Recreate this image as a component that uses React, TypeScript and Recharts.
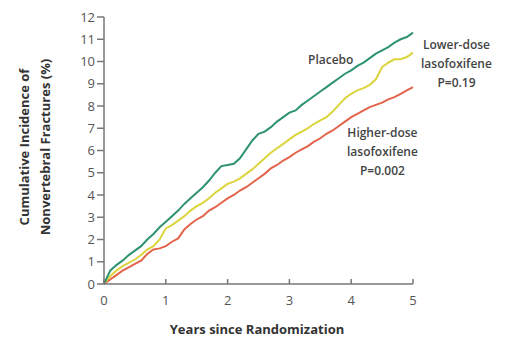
import { LineChart, Line, XAxis, YAxis } from 'recharts'

const YEARS = [
  0, 0.1, 0.2, 0.3, 0.4, 0.5, 0.6, 0.7, 0.8, 0.9,
  1, 1.1, 1.2, 1.3, 1.4, 1.5, 1.6, 1.7, 1.8, 1.9,
  2, 2.1, 2.2, 2.3, 2.4, 2.5, 2.6, 2.7, 2.8, 2.9,
  3, 3.1, 3.2, 3.3, 3.4, 3.5, 3.6, 3.7, 3.8, 3.9,
  4, 4.1, 4.2, 4.3, 4.4, 4.5, 4.6, 4.7, 4.8, 4.9, 5,
]

const PLACEBO = [
  0, 0.6, 0.85, 1.05, 1.3, 1.5, 1.7, 2.0, 2.25, 2.55,
  2.8, 3.05, 3.3, 3.6, 3.85, 4.1, 4.35, 4.65, 5.0, 5.3,
  5.35, 5.4, 5.65, 6.05, 6.45, 6.75, 6.85, 7.05, 7.3, 7.5,
  7.7, 7.8, 8.05, 8.25, 8.45, 8.65, 8.85, 9.05, 9.25, 9.45,
  9.6, 9.8, 9.95, 10.15, 10.35, 10.5, 10.65, 10.85, 11.0, 11.1, 11.3,
]

const LOWER_DOSE = [
  0, 0.35, 0.6, 0.8, 0.95, 1.1, 1.3, 1.55, 1.7, 2.0,
  2.5, 2.65, 2.85, 3.05, 3.3, 3.5, 3.65, 3.85, 4.1, 4.3,
  4.5, 4.6, 4.75, 4.95, 5.15, 5.4, 5.65, 5.9, 6.1, 6.3,
  6.5, 6.7, 6.85, 7.0, 7.2, 7.35, 7.5, 7.75, 8.05, 8.35,
  8.55, 8.7, 8.8, 8.95, 9.2, 9.75, 9.95, 10.1, 10.1, 10.2, 10.4,
]

const HIGHER_DOSE = [
  0, 0.2, 0.4, 0.6, 0.75, 0.9, 1.05, 1.35, 1.55, 1.6,
  1.7, 1.9, 2.05, 2.45, 2.7, 2.9, 3.05, 3.3, 3.45, 3.65,
  3.85, 4.0, 4.2, 4.35, 4.55, 4.75, 4.95, 5.2, 5.35, 5.55,
  5.7, 5.9, 6.05, 6.2, 6.4, 6.55, 6.75, 6.9, 7.1, 7.3,
  7.5, 7.65, 7.8, 7.95, 8.05, 8.15, 8.3, 8.4, 8.55, 8.7, 8.85,
]

const X_TICKS = [0, 1, 2, 3, 4, 5]
const Y_TICKS = [0, 1, 2, 3, 4, 5, 6, 7, 8, 9, 10, 11, 12]

const data = YEARS.map((yr, i) => ({
  yr,
  placebo: PLACEBO[i],
  lower: LOWER_DOSE[i],
  higher: HIGHER_DOSE[i],
}))

const FONT = '"Open Sans", "Noto Sans", sans-serif'
const tickStyle = { fill: '#555', fontSize: 13, fontFamily: FONT }
const axisLine = { stroke: '#777', strokeWidth: 1.5 }

const noteStyle: React.CSSProperties = {
  position: 'absolute', fontFamily: FONT, fontSize: 12, fontWeight: 600,
  color: '#444', textAlign: 'center', lineHeight: '19px', whiteSpace: 'nowrap',
}

export default function App() {
  return (
    <div style={{ position: 'absolute', left: 0, top: 0, width: 507, height: 341, background: '#fff' }}>
      <LineChart width={507} height={341} data={data} margin={{ top: 17, right: 94, bottom: 27, left: 0 }}>
        <XAxis dataKey="yr" type="number" domain={[0, 5]} ticks={X_TICKS} height={30}
          tick={tickStyle} axisLine={axisLine} tickLine={{ stroke: '#777', strokeWidth: 1.5 }}
          tickSize={-5} tickMargin={17} />
        <YAxis type="number" domain={[0, 12]} ticks={Y_TICKS} width={104} interval={0}
          tick={tickStyle} axisLine={axisLine} tickLine={{ stroke: '#777', strokeWidth: 1.5 }}
          tickSize={7} tickMargin={2} />
        <Line dataKey="higher" stroke="#e3644b" strokeWidth={2} dot={false} isAnimationActive={false} />
        <Line dataKey="lower" stroke="#dcd43c" strokeWidth={2} dot={false} isAnimationActive={false} />
        <Line dataKey="placebo" stroke="#2e9370" strokeWidth={2} dot={false} isAnimationActive={false} />
      </LineChart>

      <div style={{ ...noteStyle, left: 308, top: 50 }}>Placebo</div>
      <div style={{ ...noteStyle, left: 421, top: 35 }}>Lower-dose<br />lasofoxifene<br />P=0.19</div>
      <div style={{ ...noteStyle, left: 347, top: 123 }}>Higher-dose<br />lasofoxifene<br />P=0.002</div>

      <div style={{ position: 'absolute', left: 160, top: 320, width: 194, textAlign: 'center', fontFamily: FONT, fontSize: 13, fontWeight: 700, color: '#333' }}>
        Years since Randomization
      </div>
      <div style={{
        position: 'absolute', left: 34 - 110, top: 147 - 20, width: 220, height: 40,
        transform: 'rotate(-90deg)', textAlign: 'center', fontFamily: FONT, fontSize: 13,
        fontWeight: 700, color: '#333', lineHeight: '21px', whiteSpace: 'nowrap',
      }}>
        Cumulative Incidence of<br />Nonvertebral Fractures (%)
      </div>
    </div>
  )
}
